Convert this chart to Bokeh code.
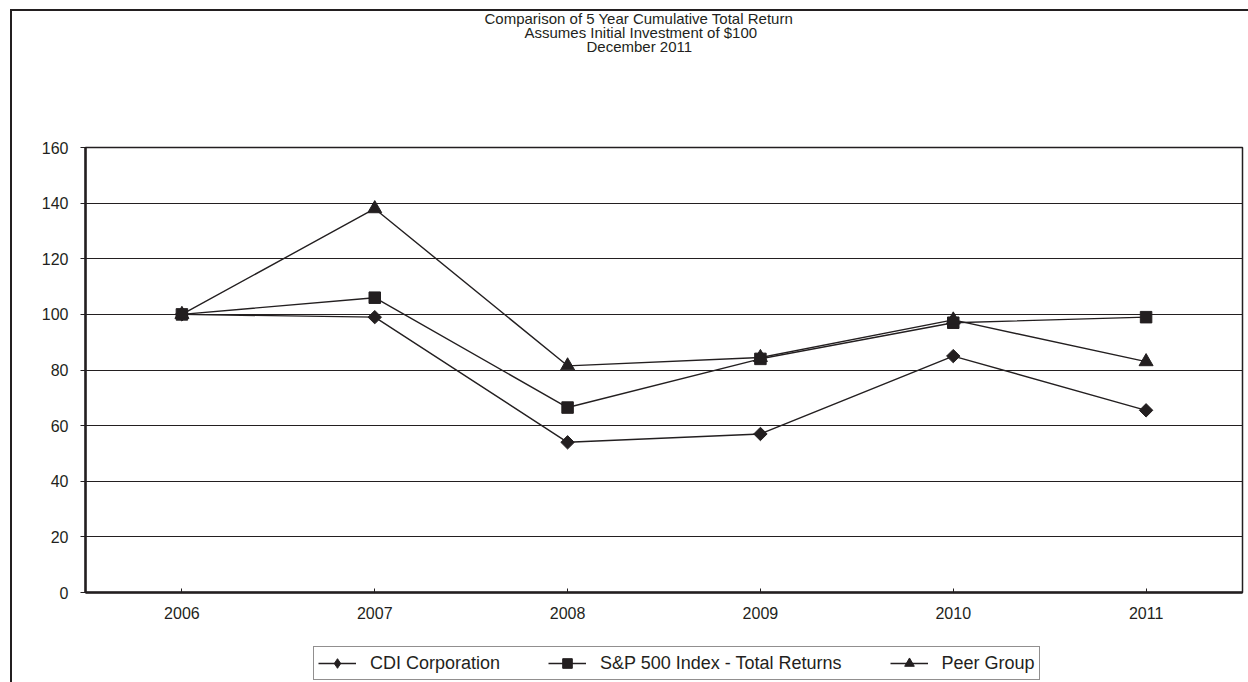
import math
from bokeh.plotting import figure
from bokeh.models import FactorRange, Range1d, Legend, LegendItem, Title, SingleIntervalTicker
from bokeh.layouts import column
from bokeh.embed import file_html
from bokeh.resources import INLINE

years = ["2006", "2007", "2008", "2009", "2010", "2011"]
cdi = [100, 99, 54, 57, 85, 65.5]
sp500 = [100, 106, 66.5, 84, 97, 99]
peer = [100, 138, 81.5, 84.5, 98, 83]
series_names = ["CDI Corporation", "S&P 500 Index - Total Returns", "Peer Group"]
title_lines = ["Comparison of 5 Year Cumulative Total Return",
               "Assumes Initial Investment of $100",
               "December 2011"]

INK = "#231f20"
FONT = "Liberation Sans"

p = figure(x_range=FactorRange(*years, range_padding=0), y_range=Range1d(0, 160),
           width=1236, height=630, min_border_left=73, min_border_right=6,
           min_border_top=136, min_border_bottom=49, title=None,
           output_backend="svg", toolbar_location=None)
p.background_fill_color = "white"
p.border_fill_color = "white"
p.outline_line_color = INK
p.outline_line_width = 1.5

# axes
p.yaxis.ticker = SingleIntervalTicker(interval=20)
p.yaxis.minor_tick_line_color = None
p.yaxis.major_tick_in = 0
p.yaxis.major_tick_out = 5
p.yaxis.axis_line_width = 2.5
p.yaxis.axis_line_color = INK
p.yaxis.major_tick_line_color = INK
p.yaxis.major_label_standoff = 12
p.xaxis.axis_line_width = 2.5
p.xaxis.axis_line_color = INK
p.xaxis.major_tick_in = 4
p.xaxis.major_tick_out = 0
p.xaxis.major_tick_line_color = INK
p.xaxis.major_label_standoff = 14
for ax in (p.xaxis, p.yaxis):
    ax.major_label_text_font = FONT
    ax.major_label_text_font_size = "16px"
    ax.major_label_text_color = INK

p.xgrid.grid_line_color = None
p.ygrid.grid_line_color = INK
p.ygrid.grid_line_width = 1.2
p.ygrid.ticker = SingleIntervalTicker(interval=20)

specs = [(cdi, "square", 9.5, math.pi / 4), (sp500, "square", 11.5, 0), (peer, "triangle", 14, 0)]
for vals, marker, size, ang in specs:
    p.line(years, vals, line_color=INK, line_width=1.4)
    p.scatter(years, vals, marker=marker, size=size, angle=ang,
              fill_color=INK, line_color=INK)

# three-line title: spacer nearest the frame, then lines from bottom to top
p.add_layout(Title(text=" ", text_font_size="1px", standoff=91), "above")
offsets = [399, 439, 501]
for txt, off in reversed(list(zip(title_lines, offsets))):
    p.add_layout(Title(text=txt, align="left", offset=off, vertical_align="middle",
                       text_font=FONT, text_font_size="15px", text_font_style="normal",
                       text_color=INK, standoff=-5.5), "above")

# legend strip below the chart (series drawn out of view, used only as legend keys)
lg = figure(width=1236, height=41, x_range=FactorRange(*years, range_padding=0),
            y_range=Range1d(-20, -10),
            min_border=0, x_axis_type=None, y_axis_type=None, title=None,
            output_backend="svg", toolbar_location=None)
lg.outline_line_color = None
lg.xgrid.grid_line_color = None
lg.ygrid.grid_line_color = None
legend_markers = ["diamond", "square", "triangle"]
items = []
for (vals, marker, size, ang), lm, name in zip(specs, legend_markers, series_names):
    lr = lg.line(years, vals, line_color=INK, line_width=1.4)
    sr = lg.scatter(years, vals, marker=lm, size=size,
                    fill_color=INK, line_color=INK)
    items.append(LegendItem(label=name, renderers=[lr, sr]))
legend = Legend(items=items, orientation="horizontal", location=(228, 2),
                border_line_color=INK, border_line_width=1.5,
                background_fill_color="white", background_fill_alpha=1,
                label_text_font=FONT, label_text_font_size="18px",
                label_text_color=INK, glyph_width=38, glyph_height=24,
                label_standoff=14, spacing=48, padding=4, margin=0)
lg.add_layout(legend, "center")

layout = column(p, lg, spacing=0,
                styles={"border-left": "2px solid #231f20",
                        "border-top": "2px solid #231f20",
                        "margin-left": "10px", "margin-top": "9px"})

open("out.html", "w").write(file_html(layout, INLINE))
